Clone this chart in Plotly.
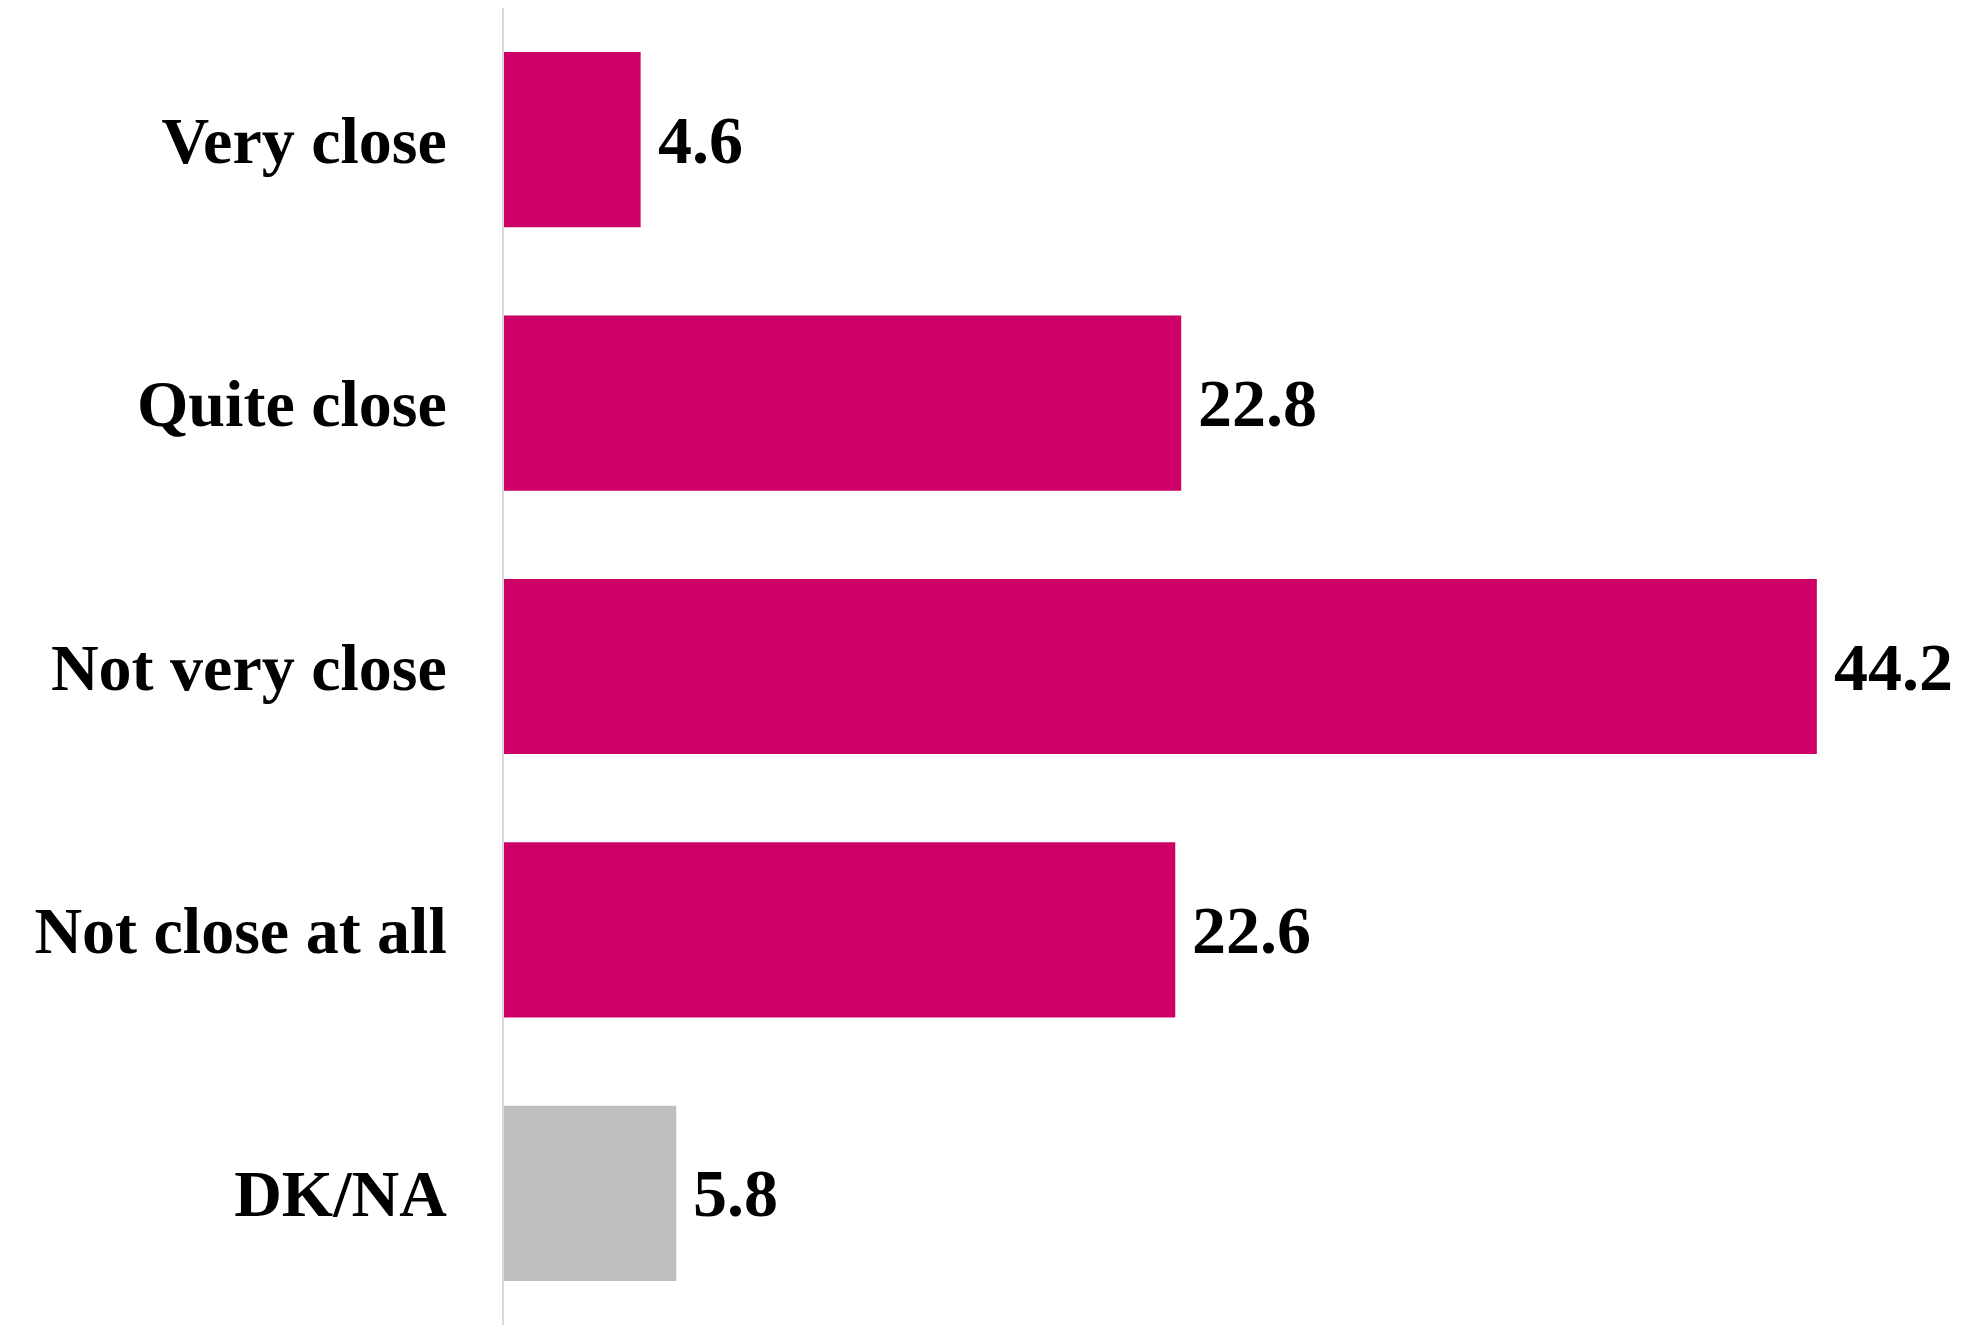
import plotly.graph_objects as go

categories = ["Very close", "Quite close", "Not very close", "Not close at all", "DK/NA"]
values = [4.6, 22.8, 44.2, 22.6, 5.8]
bar_colors = ["#CC0066", "#CC0066", "#CC0066", "#CC0066", "#BFBFBF"]

FONT = "Liberation Serif"

fig = go.Figure()
fig.add_trace(go.Bar(
    x=values,
    y=categories,
    orientation="h",
    marker=dict(color=bar_colors, line=dict(width=0)),
    hoverinfo="skip",
))

for c, v in zip(categories, values):
    fig.add_annotation(
        x=v, y=c, xref="x", yref="y",
        text=f"<b>{v:.1f}</b>",
        showarrow=False, xanchor="left", yanchor="middle",
        xshift=15,
        font=dict(family=FONT, size=68, color="#000000"),
    )

fig.update_layout(
    width=1974, height=1317,
    margin=dict(l=496, r=82, t=0, b=0),
    paper_bgcolor="white", plot_bgcolor="white",
    bargap=0.335,
    showlegend=False,
    xaxis=dict(range=[0, 47], visible=False, fixedrange=True),
    yaxis=dict(
        autorange="reversed",
        showline=True, linecolor="#D9D9D9", linewidth=2,
        showgrid=False, zeroline=False,
        ticks="", ticklabelstandoff=42,
        tickfont=dict(family=FONT, size=66, color="#000000"),
        tickvals=categories,
        ticktext=[f"<b>{c}</b>" for c in categories],
    ),
)

fig.write_html("out.html")
